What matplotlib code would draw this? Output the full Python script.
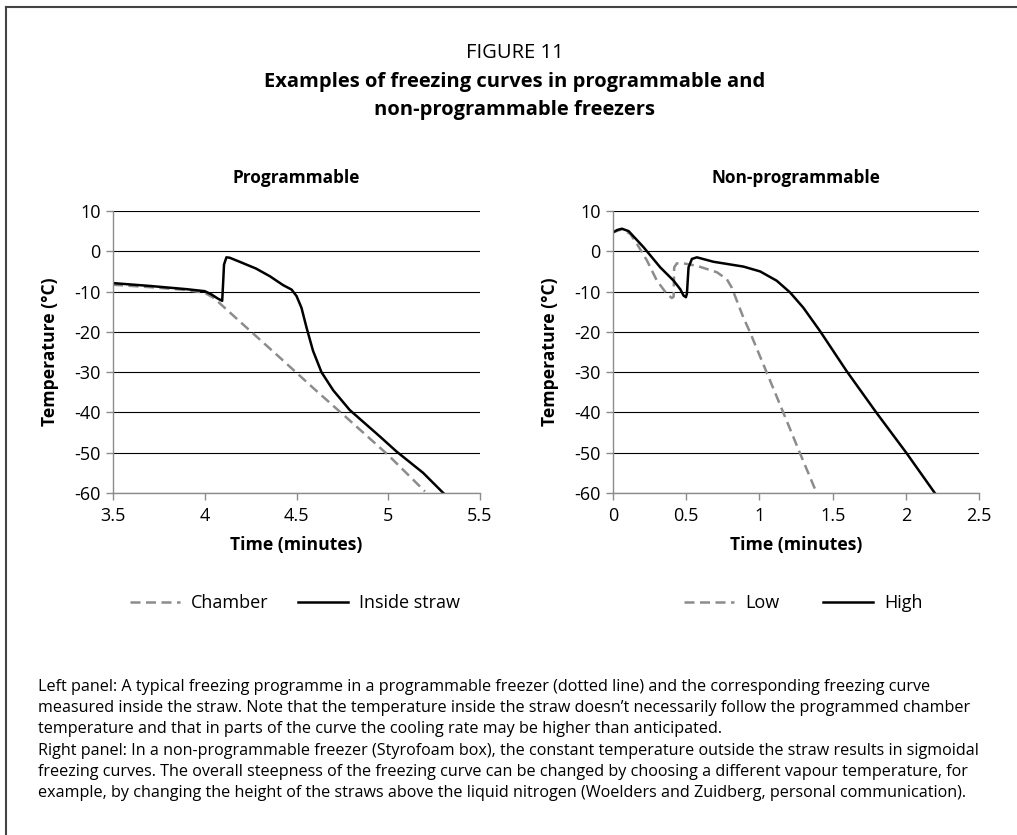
import matplotlib
matplotlib.use("Agg")
import matplotlib.pyplot as plt
from matplotlib.lines import Line2D

plt.rcParams["font.family"] = ["Open Sans", "DejaVu Sans"]

# Programmable freezer (left panel)
prog_chamber_t = [3.5, 3.7, 3.9, 4.0, 4.05, 4.2, 4.4, 4.6, 4.8, 5.0, 5.2]
prog_chamber_T = [-8.3, -8.9, -9.6, -10.3, -11.6, -17.8, -26.0, -34.3, -42.4, -50.6, -59.6]

prog_straw_t = [3.5, 3.7, 3.9, 4.0, 4.036, 4.07, 4.095, 4.10, 4.105, 4.118, 4.136, 4.19,
                4.28, 4.355, 4.427, 4.473, 4.5, 4.527, 4.555, 4.59, 4.636, 4.7, 4.79,
                4.955, 5.045, 5.19, 5.3]
prog_straw_T = [-7.9, -8.6, -9.4, -9.9, -10.7, -11.7, -12.3, -8.0, -3.3, -1.5, -1.6, -2.6,
                -4.3, -6.2, -8.4, -9.5, -11.1, -14.0, -19.0, -24.7, -30.0, -34.5, -39.4,
                -46.0, -49.7, -55.0, -60.0]

# Non-programmable freezer (right panel)
low_t = [0.0, 0.061, 0.118, 0.164, 0.232, 0.3, 0.368, 0.402, 0.414, 0.418, 0.436, 0.48,
         0.573, 0.709, 0.777, 0.811, 0.89, 0.936, 1.05, 1.164, 1.277, 1.391]
low_T = [4.7, 5.5, 4.3, 1.8, -2.3, -7.3, -10.6, -11.6, -11.3, -4.0, -3.0, -3.0,
         -3.6, -5.2, -6.9, -9.0, -16.4, -20.1, -30.1, -40.1, -50.1, -60.0]

high_t = [0.0, 0.03, 0.061, 0.107, 0.209, 0.323, 0.414, 0.459, 0.482, 0.498, 0.505, 0.509,
          0.516, 0.539, 0.573, 0.686, 0.891, 1.005, 1.118, 1.209, 1.3, 1.414, 1.595, 1.8,
          2.005, 2.198]
high_T = [4.7, 5.3, 5.6, 5.0, 1.0, -4.0, -7.3, -9.4, -11.0, -11.4, -10.5, -8.1,
          -4.0, -1.9, -1.5, -2.6, -3.8, -5.0, -7.3, -10.2, -14.0, -19.8, -29.7, -40.1,
          -50.1, -60.0]

y_ticks = [10, 0, -10, -20, -30, -40, -50, -60]
left_xticks = [3.5, 4, 4.5, 5, 5.5]
right_xticks = [0, 0.5, 1, 1.5, 2, 2.5]

caption = [
    "Left panel: A typical freezing programme in a programmable freezer (dotted line) and the corresponding freezing curve",
    "measured inside the straw. Note that the temperature inside the straw doesn\u2019t necessarily follow the programmed chamber",
    "temperature and that in parts of the curve the cooling rate may be higher than anticipated.",
    "Right panel: In a non-programmable freezer (Styrofoam box), the constant temperature outside the straw results in sigmoidal",
    "freezing curves. The overall steepness of the freezing curve can be changed by choosing a different vapour temperature, for",
    "example, by changing the height of the straws above the liquid nitrogen (Woelders and Zuidberg, personal communication).",
]

W, H = 1017, 835
fig = plt.figure(figsize=(W / 100, H / 100), dpi=100)

GRAY = "#8c8c8c"


def setup(ax, xticks, title):
    ax.set_xlim(xticks[0], xticks[-1])
    ax.set_ylim(-60, 10)
    ax.set_xticks(xticks)
    ax.set_xticklabels([f"{v:g}" for v in xticks])
    ax.set_yticks(y_ticks)
    ax.set_yticklabels([f"{v:g}" for v in y_ticks])
    ax.grid(axis="y", color="black", linewidth=0.8)
    ax.set_axisbelow(True)
    for s in ["top", "right"]:
        ax.spines[s].set_visible(False)
    for s in ["left", "bottom"]:
        ax.spines[s].set_color(GRAY)
        ax.spines[s].set_linewidth(1.0)
    ax.tick_params(axis="both", colors=GRAY, labelcolor="black", labelsize=13,
                   length=5, width=1.0)
    ax.tick_params(axis="x", pad=5)
    ax.tick_params(axis="y", pad=4)
    ax.set_xlabel("Time (minutes)", fontsize=12.6, fontweight="bold", labelpad=8)
    ax.set_ylabel("Temperature (\u00b0C)", fontsize=12.6, fontweight="bold", labelpad=10.5)
    ax.set_title(title, fontsize=12.4, fontweight="bold", pad=20)


y0 = 1 - 493 / H
h = (493 - 211) / H
ax1 = fig.add_axes([113 / W, y0, (480 - 113) / W, h])
ax2 = fig.add_axes([613 / W, y0, (979 - 613) / W, h])

dash = dict(color=GRAY, linewidth=1.8, dashes=(4, 2.2))
solid = dict(color="black", linewidth=1.8)

ax1.plot(prog_chamber_t, prog_chamber_T, label="Chamber", **dash)
ax1.plot(prog_straw_t, prog_straw_T, label="Inside straw", **solid)
setup(ax1, left_xticks, "Programmable")

ax2.plot(low_t, low_T, label="Low", **dash)
ax2.plot(high_t, high_T, label="High", **solid)
setup(ax2, right_xticks, "Non-programmable")

for ax, cx, gap in [(ax1, 295 / W, 1.6), (ax2, 803 / W, 2.4)]:
    fig.legend(*ax.get_legend_handles_labels(), loc="center",
               bbox_to_anchor=(cx, 1 - 603 / H), ncol=2, frameon=False,
               fontsize=13, handlelength=2.8, handletextpad=0.6, columnspacing=gap)

fig.text(515 / W, 1 - 53 / H, "FIGURE 11", ha="center", va="center", fontsize=14.5)
fig.text(515 / W, 1 - 82 / H, "Examples of freezing curves in programmable and",
         ha="center", va="center", fontsize=14.5, fontweight="bold")
fig.text(515 / W, 1 - 110 / H, "non-programmable freezers",
         ha="center", va="center", fontsize=14.5, fontweight="bold")

for i, line in enumerate(caption):
    fig.text(38 / W, 1 - (687 + 21.2 * i) / H, line, ha="left", va="center", fontsize=11.65)

# frame lines at the top and left edge
fig.add_artist(Line2D([6 / W, 1], [1 - 7 / H, 1 - 7 / H], color="#444444", linewidth=1.5))
fig.add_artist(Line2D([6 / W, 6 / W], [0, 1 - 7 / H], color="#444444", linewidth=1.5))

fig.savefig("out.png", dpi=100)
